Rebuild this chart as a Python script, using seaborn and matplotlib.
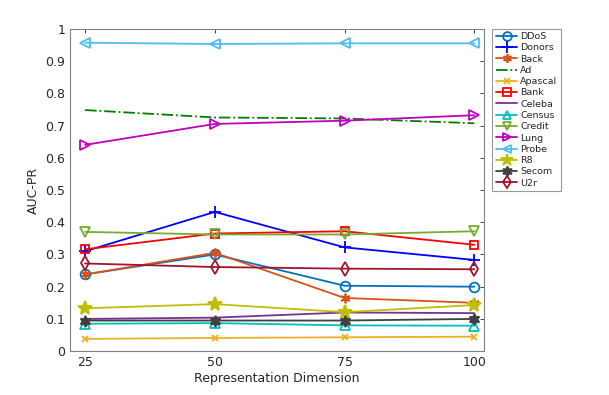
import matplotlib
matplotlib.use('Agg')
from matplotlib import pyplot as plt
import seaborn as sns
import pandas as pd

dims = [25, 50, 75, 100]

ddos = [0.238, 0.300, 0.203, 0.200]
donors = [0.310, 0.432, 0.322, 0.283]
back = [0.238, 0.305, 0.165, 0.150]
ad = [0.748, 0.725, 0.722, 0.707]
apascal = [0.038, 0.041, 0.043, 0.045]
bank = [0.316, 0.365, 0.372, 0.330]
celeba = [0.100, 0.104, 0.120, 0.118]
census = [0.085, 0.087, 0.080, 0.079]
credit = [0.370, 0.362, 0.362, 0.372]
lung = [0.640, 0.705, 0.715, 0.732]
probe = [0.957, 0.953, 0.955, 0.955]
r8 = [0.133, 0.146, 0.121, 0.143]
secom = [0.095, 0.095, 0.095, 0.100]
u2r = [0.272, 0.261, 0.256, 0.254]

series = {
    'DDoS': ddos, 'Donors': donors, 'Back': back, 'Ad': ad, 'Apascal': apascal,
    'Bank': bank, 'Celeba': celeba, 'Census': census, 'Credit': credit,
    'Lung': lung, 'Probe': probe, 'R8': r8, 'Secom': secom, 'U2r': u2r,
}

# color, marker, filled, linestyle, marker size
styles = {
    'DDoS': ('#0072BD', 'o', False, '-', 7),
    'Donors': ('#0000FF', '+', True, '-', 9),
    'Back': ('#D95319', (6, 2, 0), True, '-', 7),
    'Ad': ('#008000', None, True, '-.', 0),
    'Apascal': ('#EDB120', 'x', True, '-', 5),
    'Bank': ('#FF0000', 's', False, '-', 6),
    'Celeba': ('#7E2F8E', None, True, '-', 0),
    'Census': ('#00BFBF', '^', False, '-', 7),
    'Credit': ('#77AC30', 'v', False, '-', 7),
    'Lung': ('#BF00BF', '>', False, '-', 7),
    'Probe': ('#4DBEEE', '<', False, '-', 7),
    'R8': ('#BFBF00', '*', True, '-', 10),
    'Secom': ('#404040', (6, 1, 0), True, '-', 8),
    'U2r': ('#A2142F', 'd', False, '-', 7),
}

sns.set_style('white')
plt.rcParams['font.family'] = ['DejaVu Sans']

fig = plt.figure(figsize=(6.09, 3.95), dpi=100)
ax = fig.add_axes([0.115, 0.111, 0.68, 0.816])

for name, vals in series.items():
    color, marker, filled, ls, ms = styles[name]
    df = pd.DataFrame({'dim': dims, 'auc': vals})
    kw = {}
    if marker is not None:
        kw = dict(marker=marker, markersize=ms, markeredgewidth=1.3,
                  markeredgecolor=color,
                  markerfacecolor=color if filled else 'none')
    sns.lineplot(data=df, x='dim', y='auc', ax=ax, color=color, linestyle=ls,
                 linewidth=1.3, legend=False, **kw)

ax.set_xlim(22.1, 101.9)
ax.set_ylim(0, 1)
ax.set_xticks(dims)
ax.set_yticks([i / 10 for i in range(11)])
ax.set_yticklabels(['0'] + [f'{i / 10:.1f}' for i in range(1, 10)] + ['1'])
ax.set_xlabel('Representation Dimension', fontsize=9, color='#262626', labelpad=2)
ax.set_ylabel('AUC-PR', fontsize=9, color='#262626', labelpad=4)
ax.tick_params(direction='in', top=True, right=True, labelsize=9, colors='#262626',
               length=3, width=0.6)
for sp in ax.spines.values():
    sp.set_color('#808080')
    sp.set_linewidth(0.8)

leg = ax.legend(ax.get_lines(), list(series.keys()), loc='upper left',
                bbox_to_anchor=(1.02, 1.0), fontsize=6.8, markerscale=0.9,
                frameon=True, fancybox=False, handlelength=2.3, borderpad=0.35,
                labelspacing=0.24, handletextpad=0.3, borderaxespad=0)
leg.get_frame().set_edgecolor('#808080')
leg.get_frame().set_linewidth(0.8)

fig.savefig('out.png', dpi=100)
